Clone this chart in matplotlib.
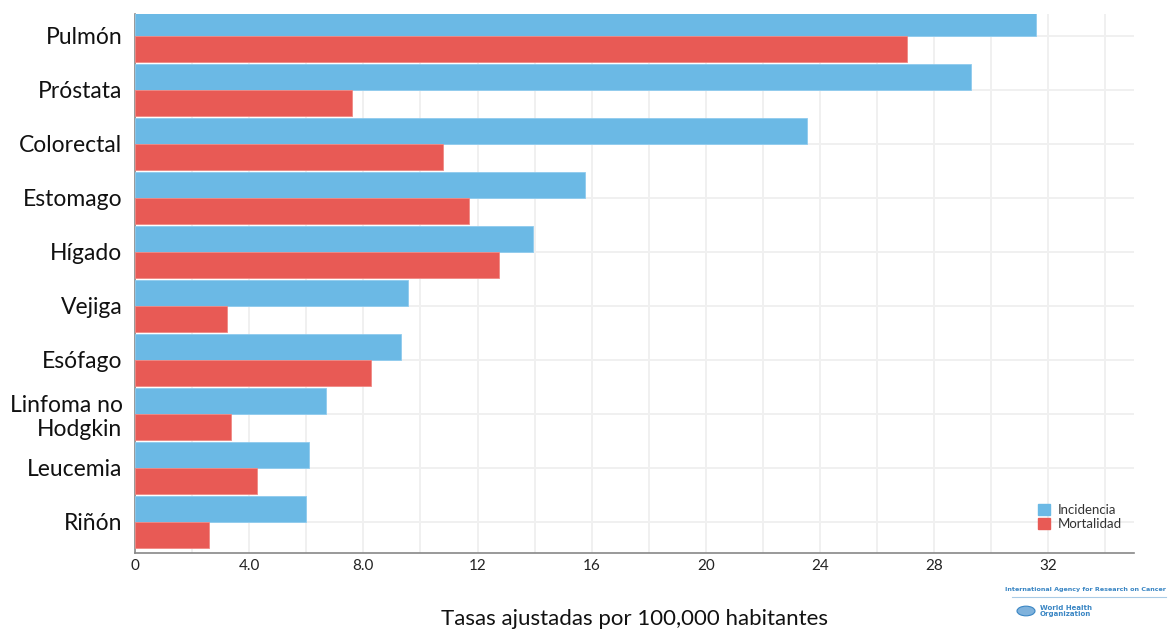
import numpy as np
import matplotlib.pyplot as plt
from matplotlib.patches import Circle
from matplotlib.lines import Line2D

plt.rcParams['font.family'] = ['Lato', 'DejaVu Sans']

sitios = ['Pulmón', 'Próstata', 'Colorectal', 'Estomago', 'Hígado', 'Vejiga',
          'Esófago', 'Linfoma no\nHodgkin', 'Leucemia', 'Riñón']
incidencia = [31.55, 29.3, 23.55, 15.77, 13.95, 9.57, 9.32, 6.69, 6.1, 6.0]
mortalidad = [27.06, 7.6, 10.8, 11.7, 12.76, 3.22, 8.27, 3.36, 4.28, 2.6]
xticks = [0, 4, 8, 12, 16, 20, 24, 28, 32]
xticklabels = ['0', '4.0', '8.0', '12', '16', '20', '24', '28', '32']

azul = '#6BB9E5'
rojo = '#E85A55'

fig = plt.figure(figsize=(11.71, 6.29), dpi=100)
ax = fig.add_axes([135/1171, 1 - 553/629, 999/1171, 539/629])

y = np.arange(len(sitios))
h = 0.48
ax.barh(y - h/2, incidencia, height=h, color=azul, edgecolor='#8FCBEE', linewidth=0.6, zorder=3)
ax.barh(y + h/2, mortalidad, height=h, color=rojo, edgecolor='#F08A85', linewidth=0.6, zorder=3)

ax.set_xlim(0, 35)
ax.set_ylim(9 + 31/54, -22/54)

# grid every 2 units, labels every 4
ax.set_xticks(np.arange(2, 35, 2), minor=True)
ax.set_xticks(xticks)
ax.set_xticklabels(xticklabels, fontsize=11, color='#222222')
ax.grid(axis='x', which='both', color='#F0F0F0', linewidth=1.4, zorder=0)
ax.set_yticks(y)
ax.set_yticklabels(sitios, fontsize=16.5, color='#111111')
ax.grid(axis='y', color='#F0F0F0', linewidth=1.4, zorder=0)
ax.tick_params(axis='both', which='both', length=0)
ax.tick_params(axis='y', pad=9)
ax.tick_params(axis='x', pad=4)

for s in ['top', 'right']:
    ax.spines[s].set_visible(False)
for s in ['left', 'bottom']:
    ax.spines[s].set_color('#888888')
    ax.spines[s].set_linewidth(1.2)

ax.set_xlabel('Tasas ajustadas por 100,000 habitantes', fontsize=16,
              color='#111111', labelpad=26)

handles = [plt.Rectangle((0, 0), 1, 1, color=azul), plt.Rectangle((0, 0), 1, 1, color=rojo)]
ax.legend(handles, ['Incidencia', 'Mortalidad'], loc='lower right',
          bbox_to_anchor=(1.0, 0.02), frameon=False, fontsize=9.5,
          handlelength=0.9, handleheight=0.9, handletextpad=0.6,
          labelspacing=0.15, labelcolor='#333333')

# IARC / WHO credit in the lower right corner
fig.text(1166/1171, 1 - 590/629, 'International Agency for Research on Cancer',
         fontsize=4.6, color='#3A86C4', fontweight='bold', va='center', ha='right',
         family='DejaVu Sans')
fig.add_artist(Line2D([1012/1171, 1166/1171], [1 - 597/629, 1 - 597/629],
                      color='#A9CBE6', linewidth=0.8))
fig.add_artist(Circle((1026/1171, 1 - 611/629), 9/1171, transform=fig.transFigure,
                      facecolor='#7FB2DC', edgecolor='#3A86C4', linewidth=0.8))
fig.text(1040/1171, 1 - 611/629, 'World Health\nOrganization', fontsize=5.0,
         color='#3A86C4', fontweight='bold', va='center', linespacing=0.95,
         family='DejaVu Sans')

fig.savefig('out.png', dpi=100)
